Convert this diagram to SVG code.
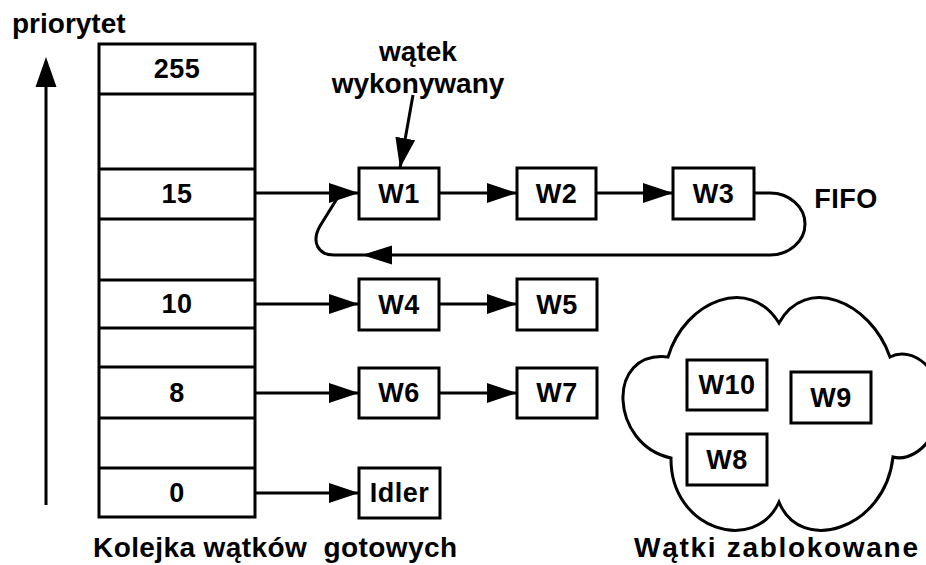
<svg xmlns="http://www.w3.org/2000/svg" width="926" height="565" viewBox="0 0 926 565">
<style>
  text { font-family: "Liberation Sans", Arial, sans-serif; font-weight: bold; fill: #000; }
  .lbl { font-size: 27px; text-anchor: middle; letter-spacing: 0.5px; }
  .cap { font-size: 28px; white-space: pre; }
  .mid { text-anchor: middle; }
  .box { fill: #fff; stroke: #000; stroke-width: 3; }
  .ln { fill: none; stroke: #000; stroke-width: 3; }
</style>
<defs>
  <marker id="ah" viewBox="0 0 30 20" refX="30" refY="10" markerWidth="30" markerHeight="20" markerUnits="userSpaceOnUse" orient="auto">
    <path d="M0,0 L30,10 L0,20 Z" fill="#000"/>
  </marker>
</defs>
<rect width="926" height="565" fill="#fff"/>

<g id="axis">
  <line class="ln" x1="46" y1="505" x2="46" y2="80"/>
  <polygon points="46,57 35.5,87 56.5,87" fill="#000"/>
  <text class="cap" x="12" y="33">priorytet</text>
</g>

<g id="queue">
  <rect class="box" x="99" y="44" width="156" height="473"/>
  <g class="ln">
    <line x1="99" y1="94" x2="255" y2="94"/>
    <line x1="99" y1="169" x2="255" y2="169"/>
    <line x1="99" y1="219" x2="255" y2="219"/>
    <line x1="99" y1="280" x2="255" y2="280"/>
    <line x1="99" y1="328" x2="255" y2="328"/>
    <line x1="99" y1="367" x2="255" y2="367"/>
    <line x1="99" y1="418" x2="255" y2="418"/>
    <line x1="99" y1="468" x2="255" y2="468"/>
  </g>
  <text class="lbl" x="177" y="78">255</text>
  <text class="lbl" x="177" y="203">15</text>
  <text class="lbl" x="177" y="313">10</text>
  <text class="lbl" x="177" y="402">8</text>
  <text class="lbl" x="177" y="502">0</text>
</g>

<g id="connectors">
  <line class="ln" x1="255" y1="193" x2="359" y2="193" marker-end="url(#ah)"/>
  <line class="ln" x1="439" y1="193" x2="517" y2="193" marker-end="url(#ah)"/>
  <line class="ln" x1="596" y1="193" x2="673" y2="193" marker-end="url(#ah)"/>
  <path class="ln" d="M754,193 H770 A35,31 0 0 1 770,255 H334 C318,255 311,242 320,226 L338,197"/>
  <polygon points="362,255 392,245.5 392,264.5" fill="#000"/>
  <line class="ln" x1="255" y1="304" x2="359" y2="304" marker-end="url(#ah)"/>
  <line class="ln" x1="439" y1="304" x2="517" y2="304" marker-end="url(#ah)"/>
  <line class="ln" x1="255" y1="393" x2="359" y2="393" marker-end="url(#ah)"/>
  <line class="ln" x1="439" y1="393" x2="517" y2="393" marker-end="url(#ah)"/>
  <line class="ln" x1="255" y1="493" x2="359" y2="493" marker-end="url(#ah)"/>
  <line class="ln" x1="413" y1="95" x2="400" y2="168" marker-end="url(#ah)"/>
</g>

<g id="running-label">
  <text class="cap mid" x="418" y="61">wątek</text>
  <text class="cap mid" x="418" y="93">wykonywany</text>
</g>

<g id="W1"><rect class="box" x="359" y="168" width="80" height="51"/><text class="lbl" x="399" y="203">W1</text></g>
<g id="W2"><rect class="box" x="517" y="168" width="79" height="51"/><text class="lbl" x="556.5" y="203">W2</text></g>
<g id="W3"><rect class="box" x="673" y="168" width="81" height="51"/><text class="lbl" x="713.5" y="203">W3</text></g>
<text class="lbl" x="846" y="208">FIFO</text>
<g id="W4"><rect class="box" x="359" y="279" width="80" height="51"/><text class="lbl" x="399" y="314">W4</text></g>
<g id="W5"><rect class="box" x="517" y="279" width="80" height="51"/><text class="lbl" x="557" y="314">W5</text></g>
<g id="W6"><rect class="box" x="359" y="368" width="80" height="50"/><text class="lbl" x="399" y="402">W6</text></g>
<g id="W7"><rect class="box" x="517" y="368" width="80" height="50"/><text class="lbl" x="557" y="402">W7</text></g>
<g id="Idler"><rect class="box" x="359" y="468" width="81" height="50"/><text class="lbl" x="399.5" y="502">Idler</text></g>

<g id="cloud">
  <path class="ln" d="M779,323 C805,275 870,300 890,357 C912,345 945,370 940,410 C936,445 910,462 893,457 C885,530 800,555 779,502 C755,555 670,530 671,458 C610,445 605,350 668,357 C685,300 750,275 779,323 Z"/>
</g>
<g id="W10"><rect class="box" x="687" y="360" width="80" height="50"/><text class="lbl" x="727" y="394">W10</text></g>
<g id="W9"><rect class="box" x="791" y="372" width="80" height="51"/><text class="lbl" x="831" y="407">W9</text></g>
<g id="W8"><rect class="box" x="687" y="434" width="80" height="51"/><text class="lbl" x="727" y="469">W8</text></g>

<text class="cap" x="93" y="557" textLength="364" lengthAdjust="spacing" xml:space="preserve">Kolejka wątków  gotowych</text>
<text class="cap" x="634" y="557" textLength="284" lengthAdjust="spacing">Wątki zablokowane</text>
</svg>
